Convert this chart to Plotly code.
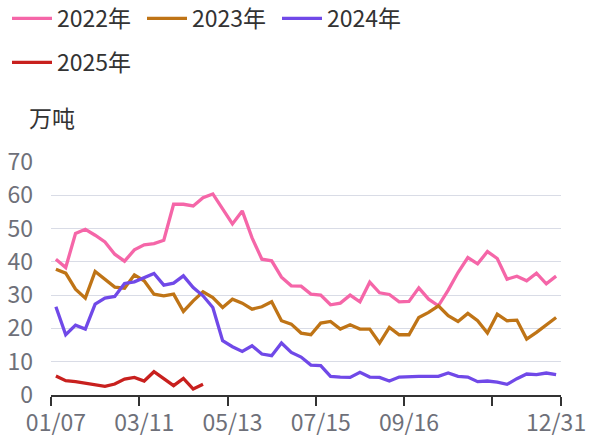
import plotly.graph_objects as go

# ---- data ----
week_index = list(range(52))
tick_label_idx = [0, 9, 18, 27, 36, 51]
tick_labels = ["01/07", "03/11", "05/13", "07/15", "09/16", "12/31"]
tick_boundaries = [-0.5, 8.5, 17.5, 26.5, 35.5, 44.5, 51.5]

y2022 = [40.8, 38.3, 48.5, 49.8, 48.0, 46.0, 42.3, 40.2, 43.6, 45.1,
         45.5, 46.5, 57.3, 57.3, 56.8, 59.3, 60.4, 56.0, 51.4, 55.3,
         47.2, 40.8, 40.3, 35.4, 32.8, 32.7, 30.3, 30.0, 27.1, 27.6,
         30.0, 28.0, 33.9, 30.7, 30.2, 28.0, 28.1, 32.2, 28.8, 26.8,
         31.5, 36.8, 41.3, 39.4, 43.1, 41.0, 34.8, 35.7, 34.3, 36.6,
         33.4, 35.7]
y2023 = [37.8, 36.6, 31.8, 29.1, 37.1, 34.8, 32.4, 32.1, 36.1, 34.3,
         30.3, 29.8, 30.3, 25.1, 28.3, 31.0, 29.3, 26.3, 28.8, 27.6,
         25.8, 26.5, 28.0, 22.3, 21.3, 18.6, 18.1, 21.6, 22.1, 19.8,
         21.1, 19.8, 19.8, 15.6, 20.3, 18.1, 18.1, 23.3, 24.8, 26.8,
         23.8, 22.1, 24.5, 22.3, 18.6, 24.3, 22.3, 22.5, 16.8, 18.8,
         21.0, 23.3]
y2024 = [26.5, 18.1, 21.0, 19.8, 27.3, 29.1, 29.6, 33.5, 34.0, 35.3,
         36.5, 33.0, 33.6, 35.8, 32.3, 29.8, 26.3, 16.3, 14.5, 13.1,
         14.8, 12.3, 11.8, 15.6, 12.8, 11.4, 9.0, 8.8, 5.6, 5.4,
         5.3, 6.8, 5.4, 5.3, 4.2, 5.4, 5.6, 5.6, 5.6, 5.6,
         6.6, 5.6, 5.4, 4.0, 4.2, 3.9, 3.2, 4.9, 6.3, 6.1,
         6.6, 6.1]
y2025 = [5.7, 4.3, 4.0, 3.5, 3.2, 2.6, 3.3, 4.8, 5.3, 4.2,
         7.0, 4.9, 2.8, 5.0, 1.8, 3.2]

series_names = ["2022年", "2023年", "2024年", "2025年"]
series_values = [y2022, y2023, y2024, y2025]
colors = ["#f566a8", "#bf7416", "#7049e8", "#c8201e"]
legend_ids = ["legend", "legend", "legend", "legend2"]
unit = "万吨"
y_ticks = [0, 10, 20, 30, 40, 50, 60, 70]

FONT = "Noto Sans CJK SC, Noto Sans, sans-serif"

fig = go.Figure()
for name, vals, col, lg in zip(series_names, series_values, colors, legend_ids):
    fig.add_trace(go.Scatter(
        x=week_index[:len(vals)], y=vals, name=name, mode="lines",
        line=dict(color=col, width=3.3), legend=lg,
    ))
# helper trace for the tick-mark axis
fig.add_trace(go.Scatter(x=[], y=[], xaxis="x2", showlegend=False, hoverinfo="skip"))

PLOT_H = 437 - 162 - 42
PLOT_W = 594 - 51 - 33


def py(px):
    return (437 - 42 - px) / PLOT_H


def pxx(px):
    return (px - 51) / PLOT_W


fig.update_layout(
    width=594, height=437,
    margin=dict(l=51, r=33, t=162, b=42, autoexpand=False),
    paper_bgcolor="white", plot_bgcolor="white",
    font=dict(family=FONT, size=23, color="#333333"),
    xaxis=dict(
        range=[-0.5, 51.5], tickmode="array", tickvals=tick_label_idx, ticktext=tick_labels,
        ticks="", showgrid=False, showline=False, zeroline=False,
        tickfont=dict(family=FONT, size=23, color="#6e7079"),
        ticklabelstandoff=12, automargin=False,
    ),
    xaxis2=dict(
        range=[-0.5, 51.5], overlaying="x", anchor="y", side="bottom",
        tickmode="array", tickvals=tick_boundaries, showticklabels=False,
        ticks="outside", ticklen=9, tickwidth=1.8, tickcolor="#333333",
        showline=True, linecolor="#333333", linewidth=1.8,
        showgrid=False, zeroline=False, automargin=False,
    ),
    yaxis=dict(
        range=[0, 70], tickmode="array", tickvals=y_ticks,
        showgrid=True, gridcolor="#d9dce6", gridwidth=1.2,
        zeroline=False, showline=False, ticks="",
        tickfont=dict(family=FONT, size=23, color="#6e7079"),
        ticklabelstandoff=17, automargin=False,
    ),
    legend=dict(
        orientation="h", xref="paper", yref="paper",
        x=pxx(7), y=py(-3), xanchor="left", yanchor="top",
        font=dict(family=FONT, size=23, color="#333333"),
        itemwidth=40, entrywidth=80, entrywidthmode="pixels",
        bgcolor="rgba(0,0,0,0)",
    ),
    legend2=dict(
        orientation="h", xref="paper", yref="paper",
        x=pxx(7), y=py(41), xanchor="left", yanchor="top",
        font=dict(family=FONT, size=23, color="#333333"),
        itemwidth=40, bgcolor="rgba(0,0,0,0)",
    ),
    annotations=[dict(
        text=unit, xref="paper", yref="paper", x=pxx(51.5), y=py(117),
        xanchor="center", yanchor="middle", showarrow=False,
        font=dict(family=FONT, size=23, color="#333333"),
    )],
)

fig.write_html("out.html", config={"displayModeBar": False},
               post_script="document.body.style.margin='0';")
